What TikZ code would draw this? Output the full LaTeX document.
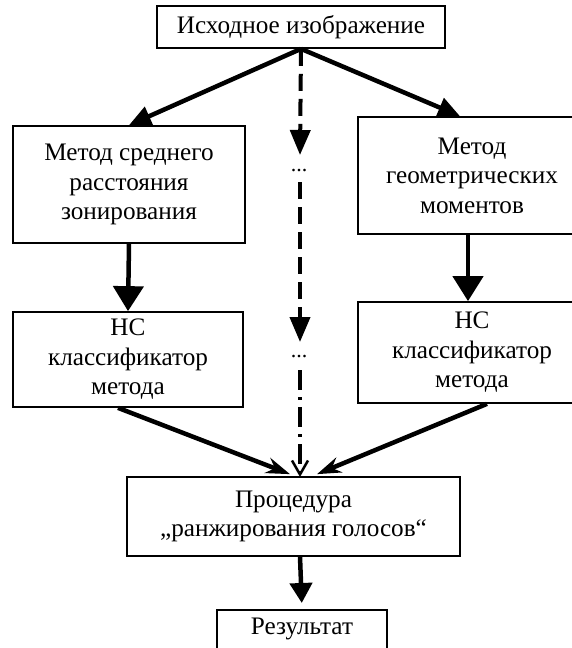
\documentclass[tikz,border=0pt]{standalone}
\usepackage{fontspec}
\setmainfont{Liberation Serif}
\usetikzlibrary{arrows.meta}
\begin{document}
\begin{tikzpicture}[x=1pt,y=-1pt,
  box/.style={draw, line width=1.7pt, rectangle, align=center, inner sep=0pt,
    font=\fontsize{25.2}{29.5}\selectfont},
  dotsnode/.style={inner sep=0pt, font=\fontsize{22}{24}\selectfont},
  mainarrow/.style={line width=4.5pt},
  vtip/.style={-{Triangle[length=25pt,width=30pt]}},
  dtip/.style={-{Triangle[length=22pt,width=20pt]}},
  ctip/.style={-{Triangle[length=25pt,width=20pt]}},
  btip/.style={-{Stealth[length=24pt,width=16pt,inset=8pt]}},
  cdash/.style={line width=4pt, dash pattern=on 17pt off 8pt},
  cdashdot/.style={line width=4pt, dash pattern=on 20pt off 7pt on 3pt off 7pt}
]
\useasboundingbox (0,0) rectangle (571,648);

% boxes
\node[box, minimum width=288pt, minimum height=42pt] (top) at (301,27) {Исходное изображение};
\node[box, minimum width=232pt, minimum height=117pt] (L1) at (129,184.5) {Метод среднего\\расстояния\\зонирования};
\node[box, minimum width=228pt, minimum height=117pt] (R1) at (472,175.5) {Метод\\геометрических\\моментов};
\node[box, minimum width=230pt, minimum height=95pt] (L2) at (128,359.5) {НС\\классификатор\\метода};
\node[box, minimum width=228pt, minimum height=101pt] (R2) at (472,352.5) {НС\\классификатор\\метода};
\node[box, minimum width=333pt, minimum height=79pt] (P) at (293.5,516.5) {Процедура\\„ранжирования голосов“};
\node[box, anchor=north, minimum width=170pt, text height=25pt, text depth=35pt] (Res) at (302,609) {Результат};

% central dotted path
\node[dotsnode] (d1) at (299,171) {...};
\node[dotsnode] (d2) at (299,357) {...};
\coordinate (c1) at (300,155);
\coordinate (c2s) at (300,182);
\coordinate (c2) at (300,342);
\coordinate (c3s) at (300,370);
\coordinate (c3) at (300,477);

\draw[cdash, ctip] (top.south) -- (c1);
\draw[cdash, ctip] (c2s) -- (c2);
\draw[cdashdot, -{Straight Barb[length=14pt,width=16pt,line width=2.5pt]}] (c3s) -- (c3);

% main arrows
\draw[mainarrow, dtip] (top.south) -- (L1.north);
\draw[mainarrow, dtip] (top.south) -- ([xshift=-12pt]R1.north);
\draw[mainarrow, vtip] (L1.south) -- (L2.north);
\draw[mainarrow, vtip] ([xshift=-4pt]R1.south) -- ([xshift=-4pt]R2.north);
\draw[mainarrow, btip] ([xshift=-10pt]L2.south) -- ([xshift=-3.5pt,yshift=2pt]P.north);
\draw[mainarrow, btip] ([xshift=15pt]R2.south) -- ([xshift=23.5pt,yshift=2pt]P.north);
\draw[mainarrow, -{Triangle[length=20pt,width=22pt]}, shorten >=6pt] ([xshift=6.5pt]P.south) -- (Res.north);
\end{tikzpicture}
\end{document}
